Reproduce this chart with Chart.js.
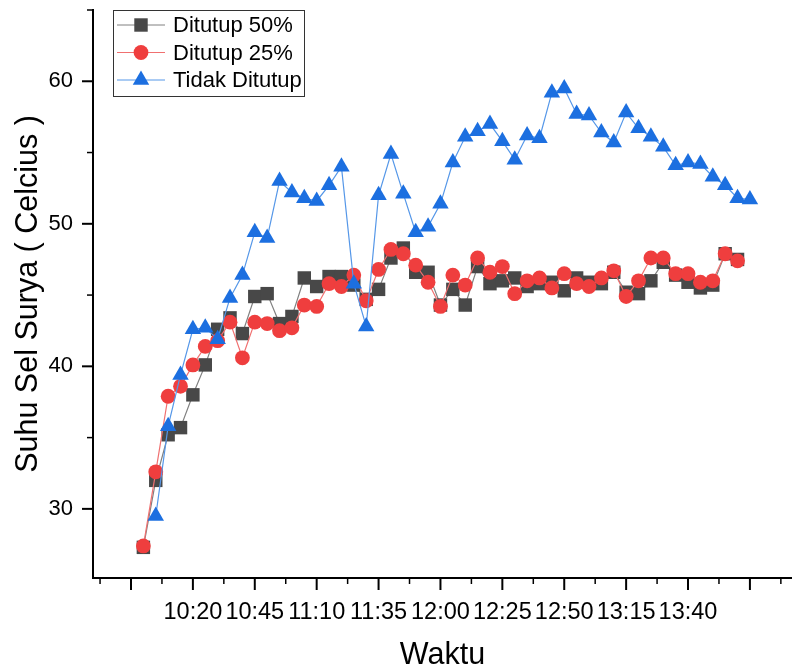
<!DOCTYPE html>
<html>
<head>
<meta charset="utf-8">
<script src="https://cdn.jsdelivr.net/npm/chart.js@4.4.1/dist/chart.umd.min.js"></script>
<style>
  html, body { margin: 0; padding: 0; background: #fff; }
  #wrap { width: 792px; height: 668px; }
</style>
</head>
<body>
<div id="wrap"><canvas id="suhuChart"></canvas></div>
<script>
// Waktu pengukuran (tiap 5 menit)
const waktu = [
  '10:00', '10:05', '10:10', '10:15', '10:20', '10:25', '10:30', '10:35', '10:40', '10:45',
  '10:50', '10:55', '11:00', '11:05', '11:10', '11:15', '11:20', '11:25', '11:30', '11:35',
  '11:40', '11:45', '11:50', '11:55', '12:00', '12:05', '12:10', '12:15', '12:20', '12:25',
  '12:30', '12:35', '12:40', '12:45', '12:50', '12:55', '13:00', '13:05', '13:10', '13:15',
  '13:20', '13:25', '13:30', '13:35', '13:40', '13:45', '13:50', '13:55', '14:00', '14:05'
];

const ditutup50 = [
  27.3, 32.0, 35.2, 35.7, 38.0, 40.1, 42.6, 43.4, 42.3, 44.9,
  45.1, 43.0, 43.5, 46.2, 45.6, 46.3, 46.3, 45.7, 44.7, 45.4,
  47.6, 48.3, 46.6, 46.6, 44.3, 45.4, 44.3, 47.0, 45.8, 46.0,
  46.2, 45.6, 45.8, 45.9, 45.3, 46.2, 45.9, 45.8, 46.6, 45.2,
  45.1, 46.0, 47.3, 46.4, 45.9, 45.5, 45.7, 47.9, 47.5, null
];

const ditutup25 = [
  27.4, 32.6, 37.9, 38.6, 40.1, 41.4, 41.8, 43.1, 40.6, 43.1,
  43.0, 42.5, 42.7, 44.3, 44.2, 45.8, 45.6, 46.4, 44.6, 46.8,
  48.2, 47.9, 47.1, 45.9, 44.2, 46.4, 45.7, 47.6, 46.6, 47.0,
  45.1, 46.0, 46.2, 45.5, 46.5, 45.8, 45.6, 46.2, 46.7, 44.9,
  46.0, 47.6, 47.6, 46.5, 46.5, 45.9, 46.0, 47.9, 47.4, null
];

const tidakDitutup = [
  null, 29.5, 35.8, 39.4, 42.6, 42.7, 41.9, 44.8, 46.4, 49.4,
  49.0, 53.0, 52.2, 51.8, 51.6, 52.7, 54.0, 45.8, 42.8, 52.0,
  54.9, 52.1, 49.4, 49.8, 51.4, 54.3, 56.1, 56.5, 57.0, 55.8,
  54.5, 56.2, 56.0, 59.2, 59.5, 57.7, 57.6, 56.4, 55.7, 57.8,
  56.7, 56.1, 55.4, 54.1, 54.3, 54.2, 53.3, 52.7, 51.8, 51.7
];

const xTickLabels = ['10:20', '10:45', '11:10', '11:35', '12:00', '12:25', '12:50', '13:15', '13:40'];
const yTickValues = [30, 35, 40, 45, 50, 55, 60, 65];

const FONT = 'Liberation Sans, Arial, sans-serif';

function toMinutes(t) {
  const [h, m] = t.split(':').map(Number);
  return h * 60 + m;
}

const xLabelMins = xTickLabels.map(toMinutes);
const xTickValues = [];
for (let m = xLabelMins[0] - 37.5; m < 862; m += 12.5) xTickValues.push(m);

function isMajorX(v) {
  return (((v - xLabelMins[0]) % 25) + 25) % 25 === 0;
}

function toPoints(values) {
  return waktu.map((t, i) => ({ x: toMinutes(t), y: values[i] }));
}

// garis tick mayor/minor di luar sumbu
const axisTicks = {
  id: 'axisTicks',
  afterDraw(chart) {
    const { ctx, chartArea, scales: { x, y } } = chart;
    ctx.save();
    ctx.strokeStyle = '#000';
    x.ticks.forEach(t => {
      const px = x.getPixelForValue(t.value);
      const major = isMajorX(t.value);
      ctx.lineWidth = major ? 2 : 1.5;
      ctx.beginPath();
      ctx.moveTo(px, chartArea.bottom);
      ctx.lineTo(px, chartArea.bottom + (major ? 12 : 6));
      ctx.stroke();
    });
    y.ticks.forEach(t => {
      const py = y.getPixelForValue(t.value);
      const major = t.value % 10 === 0;
      ctx.lineWidth = major ? 2 : 1.5;
      ctx.beginPath();
      ctx.moveTo(chartArea.left, py);
      ctx.lineTo(chartArea.left - (major ? 11 : 6), py);
      ctx.stroke();
    });
    ctx.restore();
  }
};

function drawMarker(ctx, style, x, y, r, color) {
  ctx.fillStyle = color;
  ctx.beginPath();
  if (style === 'rect') {
    const s = Math.SQRT1_2 * r;
    ctx.rect(x - s, y - s, 2 * s, 2 * s);
  } else if (style === 'triangle') {
    let rad = 0;
    ctx.moveTo(x + Math.sin(rad) * r, y - Math.cos(rad) * r);
    rad += 2 * Math.PI / 3;
    ctx.lineTo(x + Math.sin(rad) * r, y - Math.cos(rad) * r);
    rad += 2 * Math.PI / 3;
    ctx.lineTo(x + Math.sin(rad) * r, y - Math.cos(rad) * r);
    ctx.closePath();
  } else {
    ctx.arc(x, y, r, 0, Math.PI * 2);
  }
  ctx.fill();
}

// legenda dengan contoh garis + simbol
const boxLegend = {
  id: 'boxLegend',
  afterDraw(chart) {
    const { ctx, chartArea } = chart;
    const left = chartArea.left + 20;
    const top = chartArea.top;
    ctx.save();
    ctx.strokeStyle = '#333';
    ctx.lineWidth = 1;
    ctx.strokeRect(left + 0.5, top + 0.5, 191, 86);
    chart.data.datasets.forEach((ds, i) => {
      const cy = top + 15 + i * 27.5;
      ctx.strokeStyle = ds.borderColor;
      ctx.lineWidth = 1;
      ctx.beginPath();
      ctx.moveTo(left + 4, cy);
      ctx.lineTo(left + 52, cy);
      ctx.stroke();
      drawMarker(ctx, ds.pointStyle, left + 28, cy, ds.pointRadius, ds.pointBackgroundColor);
      ctx.fillStyle = '#000';
      ctx.font = '22px ' + FONT;
      ctx.textAlign = 'left';
      ctx.textBaseline = 'middle';
      ctx.fillText(ds.label, left + 60, cy + 1);
    });
    ctx.restore();
  }
};

const ctx = document.getElementById('suhuChart').getContext('2d');
const suhuChart = new Chart(ctx, {
  type: 'line',
  data: {
    datasets: [
      {
        label: 'Ditutup 50%',
        data: toPoints(ditutup50),
        borderColor: '#808080',
        borderWidth: 1.2,
        pointStyle: 'rect',
        pointRadius: 9.5,
        pointBackgroundColor: '#484848',
        pointBorderColor: '#484848',
        pointBorderWidth: 0,
        order: 3
      },
      {
        label: 'Ditutup 25%',
        data: toPoints(ditutup25),
        borderColor: '#f07070',
        borderWidth: 1.2,
        pointStyle: 'circle',
        pointRadius: 7.4,
        pointBackgroundColor: '#ef3e3e',
        pointBorderColor: '#ef3e3e',
        pointBorderWidth: 0,
        order: 2
      },
      {
        label: 'Tidak Ditutup',
        data: toPoints(tidakDitutup),
        borderColor: '#5597e8',
        borderWidth: 1.2,
        pointStyle: 'triangle',
        pointRadius: 9.5,
        pointBackgroundColor: '#1c6fe0',
        pointBorderColor: '#1c6fe0',
        pointBorderWidth: 0,
        order: 1
      }
    ]
  },
  options: {
    responsive: true,
    maintainAspectRatio: false,
    animation: false,
    layout: { autoPadding: false, padding: { top: 10, left: 0, right: 0, bottom: 0 } },
    plugins: {
      legend: { display: false },
      tooltip: { enabled: false }
    },
    scales: {
      x: {
        type: 'linear',
        min: 579.65,
        max: 862,
        afterBuildTicks: scale => { scale.ticks = xTickValues.map(v => ({ value: v })); },
        afterFit: scale => {
          scale.height = 90;
          scale.paddingLeft = 0;
          scale.paddingRight = 0;
        },
        grid: { display: false, drawTicks: false },
        border: { display: true, color: '#000', width: 2 },
        ticks: {
          autoSkip: false,
          maxRotation: 0,
          padding: 20,
          color: '#000',
          font: { family: FONT, size: 23.5 },
          callback: value => {
            const i = xLabelMins.indexOf(value);
            return i >= 0 ? xTickLabels[i] : '';
          }
        },
        title: {
          display: true,
          text: 'Waktu',
          color: '#000',
          font: { family: FONT, size: 30.5, lineHeight: 1 },
          padding: { top: 0, bottom: -3 }
        }
      },
      y: {
        min: 25.15,
        max: 65,
        afterBuildTicks: scale => { scale.ticks = yTickValues.map(v => ({ value: v })); },
        afterFit: scale => {
          scale.width = 93;
          scale.paddingTop = 0;
          scale.paddingBottom = 0;
        },
        grid: { display: false, drawTicks: false },
        border: { display: true, color: '#000', width: 2 },
        ticks: {
          padding: 20,
          color: '#000',
          font: { family: FONT, size: 22 },
          callback: value => (value % 10 === 0 ? value : '')
        },
        title: {
          display: true,
          text: 'Suhu Sel Surya ( Celcius )',
          color: '#000',
          font: { family: FONT, size: 30.5, lineHeight: 1 },
          padding: { top: 13, bottom: 0 }
        }
      }
    }
  },
  plugins: [axisTicks, boxLegend]
});
</script>
</body>
</html>
